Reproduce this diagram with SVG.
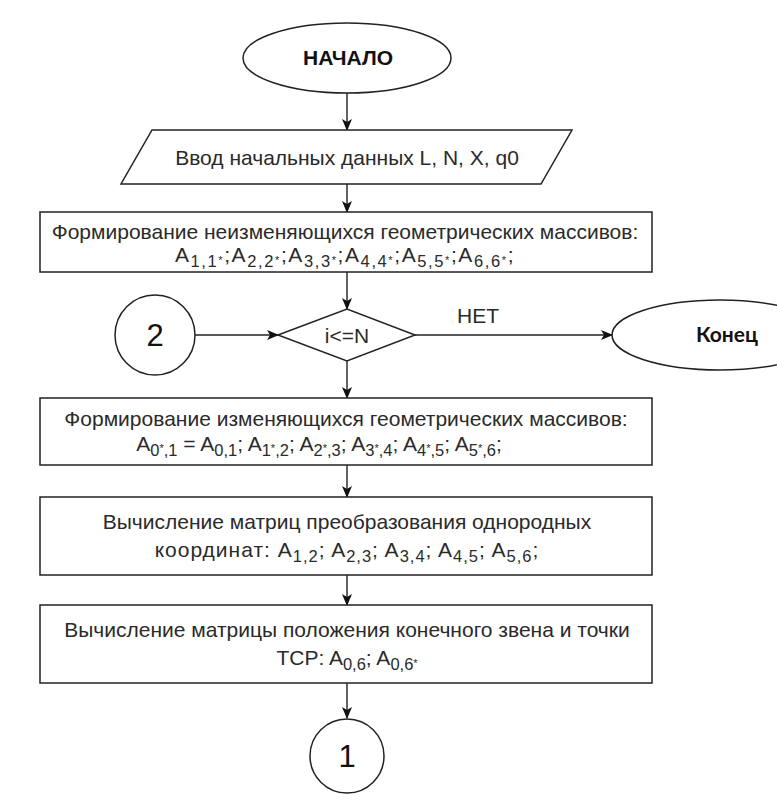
<svg xmlns="http://www.w3.org/2000/svg" width="777" height="806" viewBox="0 0 777 806">
  <defs>
    <marker id="arr" viewBox="0 0 12 10" refX="11" refY="5" markerWidth="12" markerHeight="10" markerUnits="userSpaceOnUse" orient="auto">
      <path d="M0,0 L12,5 L0,10 L3,5 z" fill="#111"/>
    </marker>
    <style>
      .shape { fill: #fff; stroke: #222; stroke-width: 1.5; }
      .line { fill: none; stroke: #222; stroke-width: 1.4; }
      .t { font-family: "Liberation Sans", Arial, sans-serif; font-size: 21px; fill: #2a2a2a; text-anchor: middle; }
      .b { font-family: "Liberation Sans", Arial, sans-serif; font-weight: bold; font-size: 21px; fill: #111; text-anchor: middle; }
      .k { font-family: Lato, "Open Sans", sans-serif; font-weight: bold; font-size: 21px; fill: #111; text-anchor: middle; }
      .n { font-family: "Liberation Sans", Arial, sans-serif; font-size: 31px; fill: #111; text-anchor: middle; }
      .sb { font-size: 16.5px; }
      .st { font-size: 11px; }
      .f1 { letter-spacing: 1.6px; }
      .f3 { letter-spacing: 1px; }
    </style>
  </defs>
  <rect width="777" height="806" fill="#fff"/>

  <g id="connectors">
    <line class="line" x1="347" y1="93" x2="347" y2="130" marker-end="url(#arr)"/>
    <line class="line" x1="347" y1="184" x2="347" y2="212" marker-end="url(#arr)"/>
    <line class="line" x1="347" y1="272" x2="347" y2="309" marker-end="url(#arr)"/>
    <line class="line" x1="195" y1="335" x2="278" y2="335" marker-end="url(#arr)"/>
    <line class="line" x1="415" y1="335" x2="612" y2="335" marker-end="url(#arr)"/>
    <line class="line" x1="347" y1="361" x2="347" y2="398" marker-end="url(#arr)"/>
    <line class="line" x1="347" y1="465" x2="347" y2="497" marker-end="url(#arr)"/>
    <line class="line" x1="347" y1="575" x2="347" y2="605" marker-end="url(#arr)"/>
    <line class="line" x1="347" y1="683" x2="347" y2="718" marker-end="url(#arr)"/>
    <text class="t" x="478" y="323">НЕТ</text>
  </g>

  <g id="start">
    <ellipse class="shape" cx="347" cy="58" rx="104" ry="35"/>
    <text class="b" x="348" y="65">НАЧАЛО</text>
  </g>

  <g id="input">
    <polygon class="shape" points="152,130 572,130 541,184 121,184"/>
    <text class="t" x="347" y="165">Ввод начальных данных L, N, X, q0</text>
  </g>

  <g id="fixed-arrays">
    <rect class="shape" x="40" y="212" width="612" height="60"/>
    <text class="t" x="345" y="239">Формирование неизменяющихся геометрических массивов:</text>
    <text class="t f1" x="345" y="262">A<tspan class="sb" baseline-shift="-5">1,1</tspan><tspan class="st" baseline-shift="-2">*</tspan>;A<tspan class="sb" baseline-shift="-5">2,2</tspan><tspan class="st" baseline-shift="-2">*</tspan>;A<tspan class="sb" baseline-shift="-5">3,3</tspan><tspan class="st" baseline-shift="-2">*</tspan>;A<tspan class="sb" baseline-shift="-5">4,4</tspan><tspan class="st" baseline-shift="-2">*</tspan>;A<tspan class="sb" baseline-shift="-5">5,5</tspan><tspan class="st" baseline-shift="-2">*</tspan>;A<tspan class="sb" baseline-shift="-5">6,6</tspan><tspan class="st" baseline-shift="-2">*</tspan>;</text>
  </g>

  <g id="connector-2">
    <circle class="shape" cx="155" cy="335" r="40"/>
    <text class="n" x="155" y="346">2</text>
  </g>

  <g id="condition">
    <polygon class="shape" points="278,335 347,309 415,335 347,361"/>
    <text class="t" x="347" y="343">i&lt;=N</text>
  </g>

  <g id="end">
    <ellipse class="shape" cx="720" cy="335" rx="108" ry="35"/>
    <text class="k" x="727" y="342">Конец</text>
  </g>

  <g id="variable-arrays">
    <rect class="shape" x="40" y="398" width="612" height="67"/>
    <text class="t" x="346" y="426">Формирование изменяющихся геометрических массивов:</text>
    <text class="t" x="319" y="451">A<tspan class="sb" baseline-shift="-5">0</tspan><tspan class="st" baseline-shift="-1">*</tspan><tspan class="sb" baseline-shift="-5">,1</tspan> = A<tspan class="sb" baseline-shift="-5">0,1</tspan>; A<tspan class="sb" baseline-shift="-5">1</tspan><tspan class="st" baseline-shift="-1">*</tspan><tspan class="sb" baseline-shift="-5">,2</tspan>; A<tspan class="sb" baseline-shift="-5">2</tspan><tspan class="st" baseline-shift="-1">*</tspan><tspan class="sb" baseline-shift="-5">,3</tspan>; A<tspan class="sb" baseline-shift="-5">3</tspan><tspan class="st" baseline-shift="-1">*</tspan><tspan class="sb" baseline-shift="-5">,4</tspan>; A<tspan class="sb" baseline-shift="-5">4</tspan><tspan class="st" baseline-shift="-1">*</tspan><tspan class="sb" baseline-shift="-5">,5</tspan>; A<tspan class="sb" baseline-shift="-5">5</tspan><tspan class="st" baseline-shift="-1">*</tspan><tspan class="sb" baseline-shift="-5">,6</tspan>;</text>
  </g>

  <g id="transform-matrices">
    <rect class="shape" x="40" y="497" width="612" height="78"/>
    <text class="t" x="347" y="529">Вычисление матриц преобразования однородных</text>
    <text class="t f3" x="347" y="557">координат: A<tspan class="sb" baseline-shift="-5">1,2</tspan>; A<tspan class="sb" baseline-shift="-5">2,3</tspan>; A<tspan class="sb" baseline-shift="-5">3,4</tspan>; A<tspan class="sb" baseline-shift="-5">4,5</tspan>; A<tspan class="sb" baseline-shift="-5">5,6</tspan>;</text>
  </g>

  <g id="end-link-matrix">
    <rect class="shape" x="40" y="605" width="612" height="78"/>
    <text class="t" x="347" y="637">Вычисление матрицы положения конечного звена и точки</text>
    <text class="t" x="347" y="665">TCP: A<tspan class="sb" baseline-shift="-5">0,6</tspan>; A<tspan class="sb" baseline-shift="-5">0,6</tspan><tspan class="st" baseline-shift="-2">*</tspan></text>
  </g>

  <g id="connector-1">
    <circle class="shape" cx="347" cy="756" r="37"/>
    <text class="n" x="347" y="767">1</text>
  </g>
</svg>
